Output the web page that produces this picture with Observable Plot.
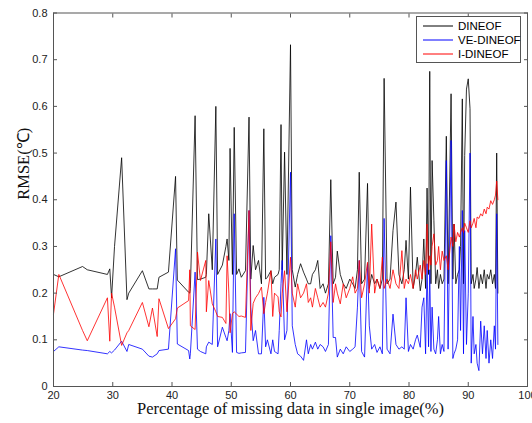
<!DOCTYPE html>
<html><head><meta charset="utf-8">
<script src="https://cdn.jsdelivr.net/npm/d3@7"></script>
<script src="https://cdn.jsdelivr.net/npm/@observablehq/plot@0.6"></script>
<style>
body{margin:0;background:#fff;}
#wrap{position:relative;width:532px;height:423px;}
#legend{position:absolute;left:416px;top:16px;width:105px;height:47px;border:1px solid #555;background:#fff;font-family:"Liberation Sans",Arial,sans-serif;font-size:11.5px;box-sizing:border-box;}
.row{position:absolute;left:5px;height:14px;display:flex;align-items:center;white-space:nowrap;}
.row svg{margin-right:4px;}
</style></head>
<body><div id="wrap"></div>
<script>
const seriesNames = ["DINEOF", "VE-DINEOF", "I-DINEOF"];
const seriesColors = ["#000000", "#0000ff", "#ff0000"];
const xTicks = [20, 30, 40, 50, 60, 70, 80, 90, 100];
const yTicks = [0, 0.1, 0.2, 0.3, 0.4, 0.5, 0.6, 0.7, 0.8];

const pct = [20.0,20.9,24.9,25.7,29.1,29.5,29.8,30.3,31.5,32.4,32.7,35.0,36.1,36.7,37.5,37.8,39.4,40.6,40.9,42.8,43.0,43.1,43.9,44.3,44.8,45.7,45.8,46.2,46.8,47.4,47.7,48.5,49.1,49.3,49.6,49.8,50.2,50.5,50.9,51.3,51.7,52.4,53.0,53.3,53.7,54.1,54.6,55.1,55.5,55.8,56.1,56.7,57.0,57.3,57.9,58.1,58.4,58.6,59.0,59.4,60.0,60.3,60.8,61.2,61.7,62.2,62.7,63.0,63.4,63.7,64.2,64.6,65.0,65.5,65.9,66.4,66.8,67.2,67.6,67.9,68.4,68.9,69.4,70.0,70.5,70.9,71.3,71.6,72.0,72.5,73.0,73.3,73.7,74.2,74.6,75.1,75.5,75.8,76.3,76.8,77.3,77.8,78.3,78.8,79.2,79.5,79.9,80.25,80.7,81.1,81.4,81.9,82.2,82.5,82.8,83.05,83.3,83.5,83.7,83.9,84.2,84.5,84.8,85.0,85.3,85.6,85.9,86.3,86.6,87.1,87.4,87.6,87.9,88.2,88.5,88.7,89.0,89.2,89.4,89.7,90.0,90.3,90.5,90.8,91.0,91.3,91.5,91.8,92.1,92.4,92.7,93.0,93.2,93.5,93.8,94.1,94.4,94.6,94.8,95.0];

const dineof = [0.24,0.235,0.257,0.25,0.24,0.252,0.19,0.30,0.49,0.186,0.20,0.248,0.209,0.209,0.209,0.234,0.245,0.45,0.228,0.202,0.20,0.21,0.58,0.229,0.23,0.234,0.24,0.37,0.25,0.60,0.24,0.26,0.30,0.316,0.27,0.51,0.24,0.555,0.24,0.252,0.234,0.248,0.577,0.23,0.302,0.25,0.27,0.22,0.552,0.23,0.234,0.248,0.22,0.234,0.24,0.25,0.561,0.25,0.502,0.24,0.732,0.25,0.213,0.24,0.263,0.245,0.23,0.22,0.22,0.24,0.25,0.27,0.21,0.22,0.20,0.22,0.443,0.22,0.234,0.29,0.24,0.22,0.21,0.23,0.22,0.21,0.25,0.459,0.22,0.23,0.435,0.21,0.24,0.22,0.23,0.21,0.23,0.66,0.22,0.23,0.334,0.395,0.24,0.22,0.25,0.313,0.23,0.427,0.21,0.24,0.277,0.205,0.23,0.316,0.21,0.425,0.24,0.675,0.22,0.484,0.356,0.22,0.25,0.21,0.24,0.22,0.23,0.536,0.22,0.627,0.23,0.348,0.22,0.24,0.25,0.30,0.616,0.22,0.495,0.637,0.659,0.595,0.22,0.24,0.21,0.23,0.255,0.21,0.24,0.22,0.25,0.21,0.24,0.23,0.25,0.22,0.24,0.21,0.50,0.20];

const vedineof = [0.075,0.085,0.078,0.077,0.07,0.075,0.072,0.078,0.097,0.075,0.09,0.08,0.065,0.063,0.07,0.077,0.08,0.295,0.091,0.077,0.059,0.07,0.245,0.08,0.075,0.07,0.085,0.095,0.09,0.316,0.085,0.127,0.105,0.098,0.12,0.156,0.073,0.37,0.073,0.071,0.072,0.073,0.377,0.17,0.098,0.12,0.07,0.07,0.191,0.085,0.10,0.07,0.10,0.075,0.07,0.12,0.22,0.27,0.10,0.12,0.459,0.13,0.09,0.07,0.065,0.056,0.10,0.07,0.09,0.08,0.095,0.08,0.09,0.085,0.075,0.09,0.323,0.105,0.105,0.063,0.08,0.07,0.085,0.075,0.08,0.085,0.17,0.27,0.075,0.063,0.263,0.13,0.08,0.09,0.073,0.085,0.07,0.36,0.08,0.07,0.155,0.09,0.08,0.085,0.08,0.19,0.075,0.09,0.08,0.10,0.11,0.084,0.17,0.19,0.07,0.263,0.085,0.25,0.075,0.17,0.08,0.07,0.10,0.15,0.07,0.09,0.075,0.484,0.08,0.527,0.06,0.07,0.08,0.10,0.30,0.12,0.377,0.07,0.334,0.09,0.20,0.50,0.05,0.15,0.07,0.09,0.05,0.034,0.14,0.07,0.13,0.06,0.12,0.05,0.10,0.06,0.13,0.08,0.37,0.09];

const idineof = [0.155,0.24,0.12,0.098,0.19,0.097,0.20,0.17,0.088,0.115,0.12,0.18,0.128,0.168,0.107,0.188,0.124,0.145,0.168,0.184,0.25,0.13,0.122,0.288,0.227,0.27,0.16,0.227,0.177,0.16,0.15,0.148,0.135,0.28,0.20,0.115,0.156,0.16,0.155,0.15,0.151,0.148,0.377,0.12,0.178,0.19,0.199,0.213,0.156,0.18,0.20,0.248,0.15,0.20,0.192,0.16,0.149,0.20,0.248,0.16,0.277,0.20,0.17,0.22,0.19,0.20,0.22,0.18,0.19,0.17,0.21,0.19,0.17,0.18,0.17,0.20,0.31,0.18,0.22,0.20,0.177,0.22,0.19,0.21,0.235,0.20,0.21,0.27,0.19,0.22,0.266,0.20,0.348,0.20,0.23,0.21,0.277,0.21,0.23,0.21,0.25,0.22,0.21,0.291,0.21,0.23,0.22,0.24,0.21,0.25,0.23,0.26,0.23,0.27,0.24,0.348,0.25,0.28,0.26,0.30,0.327,0.26,0.27,0.30,0.25,0.29,0.27,0.28,0.25,0.32,0.30,0.348,0.31,0.33,0.32,0.33,0.34,0.33,0.35,0.34,0.33,0.355,0.34,0.35,0.36,0.34,0.363,0.36,0.37,0.365,0.38,0.37,0.384,0.38,0.398,0.39,0.40,0.41,0.44,0.40];

const rows = [];
[dineof, vedineof, idineof].forEach((vals, s) => {
  vals.forEach((v, i) => rows.push({pct: pct[i], rmse: v, series: seriesNames[s]}));
});

const plot = Plot.plot({
  width: 532, height: 423,
  marginLeft: 53, marginRight: 5, marginTop: 12.5, marginBottom: 37,
  style: {fontFamily: '"Liberation Sans", Arial, sans-serif', fontSize: "11px", color: "#222"},
  x: {domain: [20, 100]},
  y: {domain: [0, 0.8]},
  color: {domain: seriesNames, range: seriesColors},
  marks: [
    Plot.line(rows, {x: "pct", y: "rmse", z: "series", stroke: "series", strokeWidth: 0.8}),
    Plot.frame({stroke: "#555", strokeWidth: 1}),
    Plot.axisX(xTicks, {anchor: "bottom", tickSize: 0, tickPadding: 5, label: null, tickFormat: d => String(d), fontSize: 11}),
    Plot.axisX(xTicks, {anchor: "bottom", tickSize: -4, label: null, tickFormat: () => "", stroke: "#555"}),
    Plot.axisX(xTicks, {anchor: "top", tickSize: -4, label: null, tickFormat: () => "", stroke: "#555"}),
    Plot.axisY(yTicks, {anchor: "left", tickSize: 0, tickPadding: 6, label: null, tickFormat: d => String(d), fontSize: 11}),
    Plot.axisY(yTicks, {anchor: "left", tickSize: -4, label: null, tickFormat: () => "", stroke: "#555"}),
    Plot.axisY(yTicks, {anchor: "right", tickSize: -4, label: null, tickFormat: () => "", stroke: "#555"}),
    Plot.text(["Percentage of missing data in single image(%)"], {frameAnchor: "bottom", dy: 27.5, fontFamily: '"Liberation Serif", "Times New Roman", serif', fontSize: 16.5, fill: "#111"}),
    Plot.text(["RMSE(℃)"], {frameAnchor: "left", dx: -30, rotate: -90, fontFamily: '"Liberation Serif", "Times New Roman", serif', fontSize: 16.5, fill: "#111"})
  ]
});
const wrap = document.getElementById("wrap");
wrap.appendChild(plot);

const legend = document.createElement("div");
legend.id = "legend";
seriesNames.forEach((name, i) => {
  const r = document.createElement("div");
  r.className = "row";
  r.style.top = (2 + i * 14) + "px";
  r.innerHTML = `<svg width="32" height="4"><line x1="1" y1="2" x2="31" y2="2" stroke="${seriesColors[i]}" stroke-width="1"/></svg><span>${name}</span>`;
  legend.appendChild(r);
});
wrap.appendChild(legend);
</script></body></html>
